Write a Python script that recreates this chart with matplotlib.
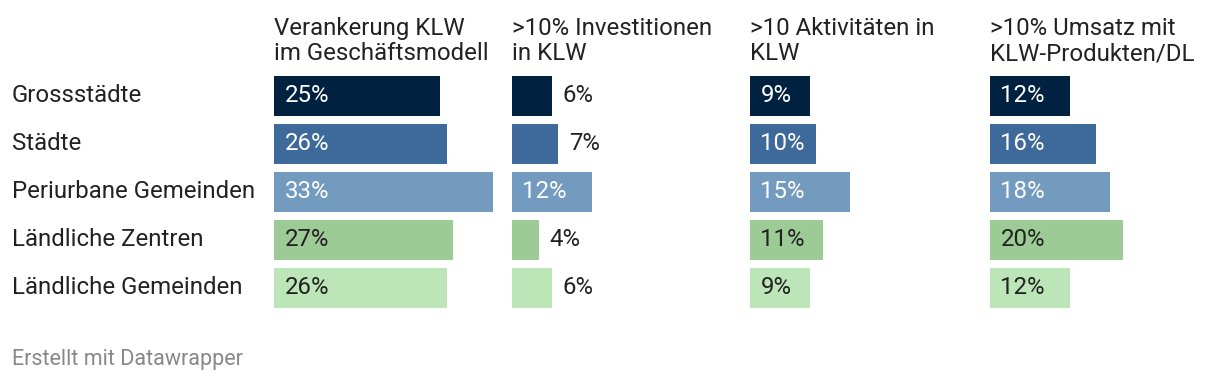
import matplotlib.pyplot as plt
import matplotlib.transforms as mtransforms

plt.rcParams['font.family'] = ['Roboto', 'DejaVu Sans']

# Daten
gruppen = ['Grossstädte', 'Städte', 'Periurbane Gemeinden',
           'Ländliche Zentren', 'Ländliche Gemeinden']
titel = ['Verankerung KLW\nim Geschäftsmodell',
         '>10% Investitionen\nin KLW',
         '>10 Aktivitäten in\nKLW',
         '>10% Umsatz mit\nKLW-Produkten/DL']
verankerung = [25, 26, 33, 27, 26]
investitionen = [6, 7, 12, 4, 6]
aktivitaeten = [9, 10, 15, 11, 9]
umsatz = [12, 16, 18, 20, 12]
werte = [verankerung, investitionen, aktivitaeten, umsatz]

farben = ['#002140', '#3d6a9a', '#739abf', '#9dcb96', '#bce6b7']
text_farben = ['white', 'white', 'white', '#222222', '#222222']

W, H = 1220, 384
fig = plt.figure(figsize=(W / 100, H / 100), dpi=100)

px_pro_prozent = 6.64
xmax = 36
panel_links = [274, 512, 750, 990]
oben, unten = 72, 312
fs = 17.3

for i, (vals, t) in enumerate(zip(werte, titel)):
    ax = fig.add_axes([panel_links[i] / W, (H - unten) / H,
                       xmax * px_pro_prozent / W, (unten - oben) / H])
    ax.barh(range(len(vals)), vals, height=40 / 48, color=farben)
    ax.set_xlim(0, xmax)
    ax.set_ylim(len(vals) - 0.5, -0.5)
    ax.axis('off')

    for j, v in enumerate(vals):
        if v >= 8:
            ax.annotate(f'{v}%', (0, j), xytext=(7.5, 0), textcoords='offset points',
                        va='center', ha='left', fontsize=fs, color=text_farben[j])
        else:
            ax.annotate(f'{v}%', (v, j), xytext=(8, 0), textcoords='offset points',
                        va='center', ha='left', fontsize=fs, color='#222222')

    ax.text(0, 1 + 7 / 240, t, transform=ax.transAxes, ha='left', va='bottom',
            fontsize=fs, color='#222222', linespacing=1.1)

    if i == 0:
        trans = mtransforms.blended_transform_factory(fig.transFigure, ax.transData)
        for j, g in enumerate(gruppen):
            ax.text(12 / W, j, g, transform=trans, ha='left', va='center',
                    fontsize=fs, color='#222222')

fig.text(12 / W, 1 - 359 / H, 'Erstellt mit Datawrapper', ha='left', va='center',
         fontsize=15.5, color='#888888')

fig.savefig('out.png', dpi=100, facecolor='white')
